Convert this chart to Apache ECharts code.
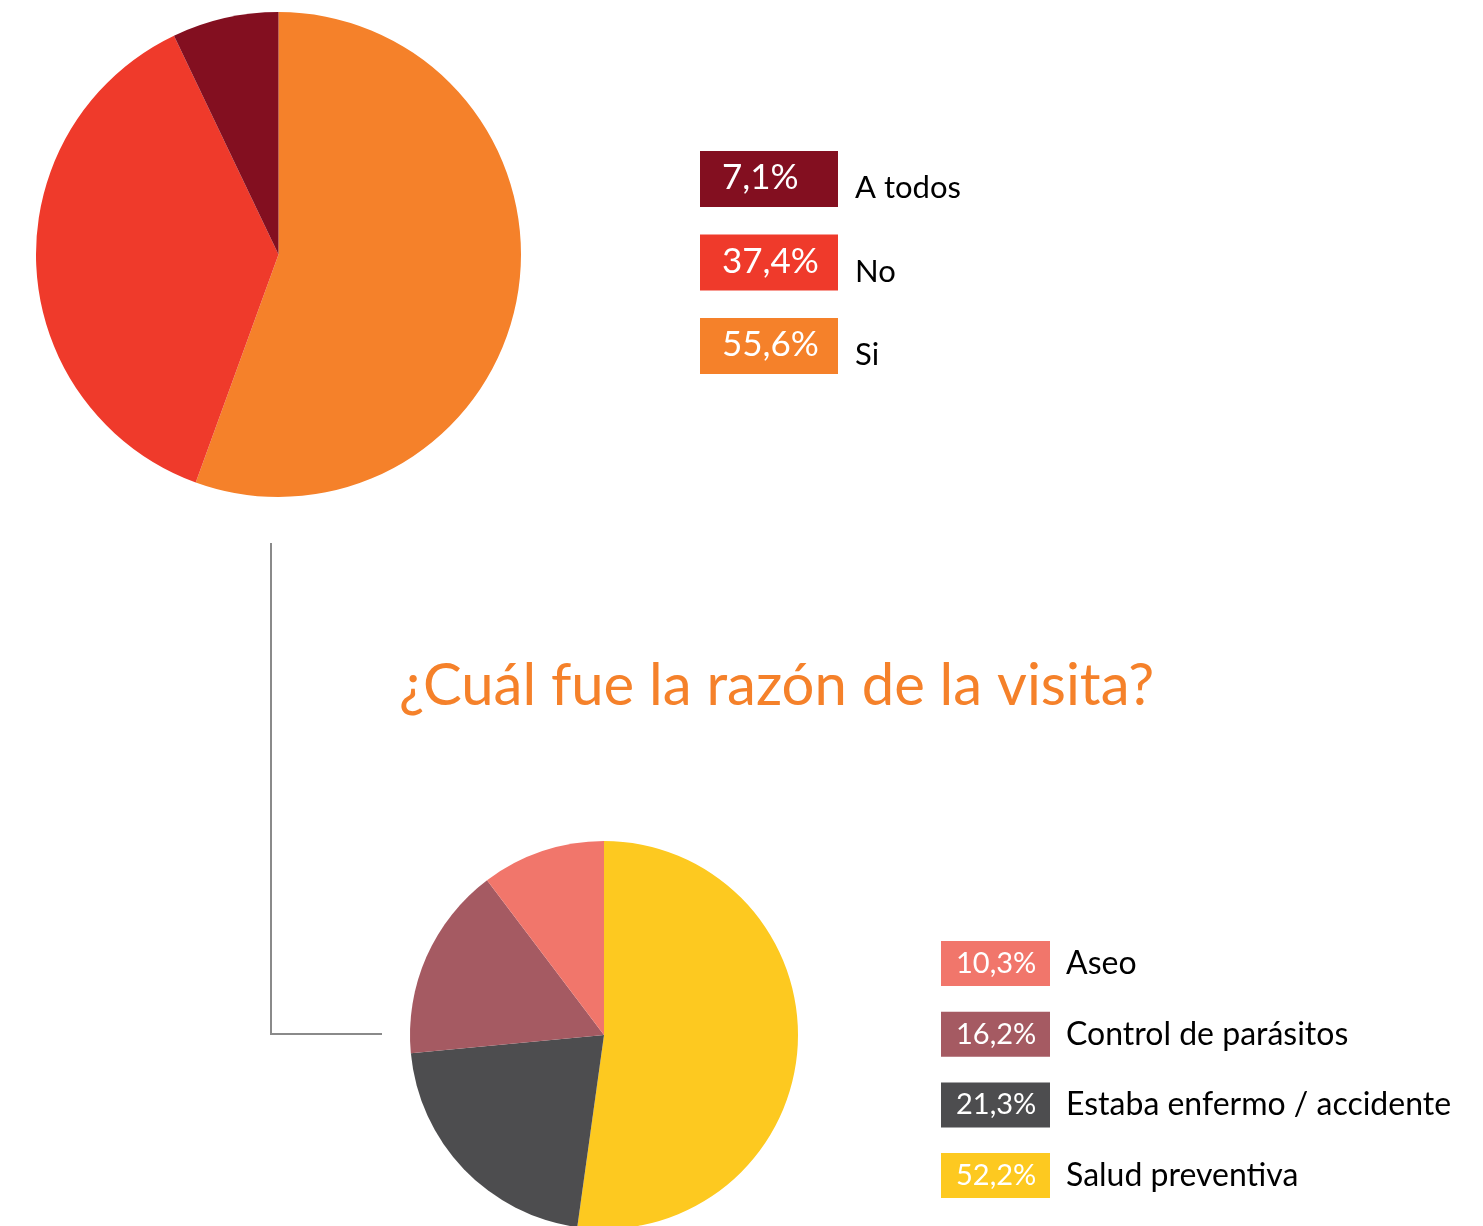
<!DOCTYPE html>
<html>
<head>
<meta charset="utf-8">
<script src="https://cdn.jsdelivr.net/npm/echarts@6/dist/echarts.min.js"></script>
<style>
  html, body { margin: 0; padding: 0; background: #fff; }
  #chart { width: 1483px; height: 1226px; }
</style>
</head>
<body>
<div id="chart"></div>
<script>
// data (legend order, top to bottom)
var topLabels = ["A todos", "No", "Si"];
var topValues = [7.1, 37.4, 55.6];
var topColors = ["#830F20", "#EF3A2B", "#F5812A"];

var bottomLabels = ["Aseo", "Control de parásitos", "Estaba enfermo / accidente", "Salud preventiva"];
var bottomValues = [10.3, 16.2, 21.3, 52.2];
var bottomColors = ["#F1766B", "#A55A62", "#4D4D4F", "#FDC920"];

var title = "¿Cuál fue la razón de la visita?";
var font = "Lato";

function fmt(v) {
  return v.toFixed(1).replace(".", ",") + "%";
}

// pie data goes clockwise from 12 o'clock, i.e. reverse of legend order
function pieData(labels, values, colors) {
  var out = [];
  for (var i = labels.length - 1; i >= 0; i--) {
    out.push({ name: labels[i], value: values[i], itemStyle: { color: colors[i] } });
  }
  return out;
}

function legendItems(labels, values, colors, opt) {
  var items = [];
  labels.forEach(function (name, i) {
    var y = opt.y + i * opt.step;
    items.push({
      type: "rect",
      shape: { x: opt.x, y: y, width: opt.w, height: opt.h },
      style: { fill: colors[i] }
    });
    items.push({
      type: "text",
      x: opt.x + opt.pad,
      y: y + opt.h / 2 + opt.pctDy,
      style: {
        text: fmt(values[i]),
        fill: "#fff",
        font: opt.pctSize + "px " + font,
        verticalAlign: "middle"
      }
    });
    items.push({
      type: "text",
      x: opt.x + opt.w + opt.gap,
      y: y + opt.h / 2 + opt.labelDy,
      style: {
        text: name,
        fill: "#000",
        font: opt.labelSize + "px " + font,
        verticalAlign: "middle"
      }
    });
  });
  return items;
}

var chart = echarts.init(document.getElementById("chart"));

var graphics = []
  .concat(legendItems(topLabels, topValues, topColors, {
    x: 700, y: 151, w: 138, h: 56, step: 83.5, pad: 22,
    pctSize: 35, pctDy: -1, labelSize: 31, gap: 17, labelDy: 9
  }))
  .concat(legendItems(bottomLabels, bottomValues, bottomColors, {
    x: 941, y: 941, w: 109, h: 45, step: 70.7, pad: 15,
    pctSize: 29, pctDy: 0, labelSize: 32, gap: 16, labelDy: 0
  }));

graphics.push({
  type: "polyline",
  shape: { points: [[271, 543], [271, 1034], [382, 1034]] },
  style: { stroke: "#8A8A8A", lineWidth: 2, fill: null }
});

chart.setOption({
  animation: false,
  title: {
    text: title,
    left: 394,
    top: 652,
    textStyle: { color: "#F5812A", fontFamily: font, fontSize: 58, fontWeight: "normal" }
  },
  graphic: graphics,
  series: [
    {
      type: "pie",
      center: [278.5, 254.5],
      radius: 242.5,
      startAngle: 90,
      clockwise: true,
      label: { show: false },
      labelLine: { show: false },
      emphasis: { disabled: true },
      data: pieData(topLabels, topValues, topColors)
    },
    {
      type: "pie",
      center: [604, 1035],
      radius: 194,
      startAngle: 90,
      clockwise: true,
      label: { show: false },
      labelLine: { show: false },
      emphasis: { disabled: true },
      data: pieData(bottomLabels, bottomValues, bottomColors)
    }
  ]
});
</script>
</body>
</html>
